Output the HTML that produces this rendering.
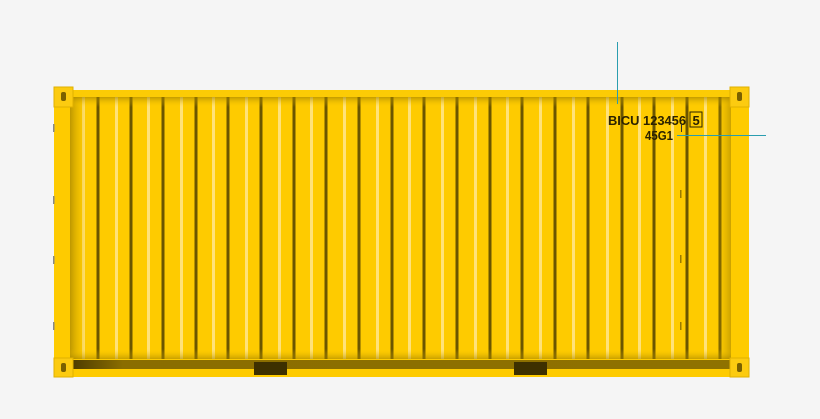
<!DOCTYPE html>
<html><head><meta charset="utf-8"><style>
html,body{margin:0;padding:0;background:#f5f5f5;}
svg{display:block}
</style></head><body>
<svg width="820" height="419" viewBox="0 0 820 419">
<defs>
<linearGradient id="ls" x1="0" x2="1"><stop offset="0" stop-color="#a88600" stop-opacity=".75"/><stop offset="1" stop-color="#fecb00" stop-opacity="0"/></linearGradient>
<linearGradient id="rs" x1="1" x2="0"><stop offset="0" stop-color="#a88600" stop-opacity=".6"/><stop offset="1" stop-color="#fecb00" stop-opacity="0"/></linearGradient>
<linearGradient id="ts" x1="0" x2="0" y1="0" y2="1"><stop offset="0" stop-color="#9c7c00" stop-opacity=".6"/><stop offset="1" stop-color="#fecb00" stop-opacity="0"/></linearGradient>
<linearGradient id="us" x1="0" x2="0" y1="1" y2="0"><stop offset="0" stop-color="#9c7c00" stop-opacity=".55"/><stop offset="1" stop-color="#fecb00" stop-opacity="0"/></linearGradient>
<linearGradient id="bs" x1="0" x2="1"><stop offset="0" stop-color="#4a3a00"/><stop offset=".08" stop-color="#8a6d00"/><stop offset="1" stop-color="#8f7200"/></linearGradient>
</defs>
<rect x="54" y="90" width="695" height="287" fill="#fecb00"/>
<g id="ribs"></g>
<rect x="70" y="97" width="18" height="262" fill="url(#ls)"/>
<rect x="715" y="97" width="16" height="262" fill="url(#rs)"/>
<rect x="54" y="97" width="695" height="10" fill="url(#ts)"/>
<rect x="54" y="349" width="695" height="10" fill="url(#us)"/>
<rect x="54" y="90" width="695" height="7" fill="#fccb05"/>
<rect x="54" y="97" width="16" height="262" fill="#fecb00"/>
<rect x="731" y="97" width="18" height="262" fill="#fecb00"/>
<rect x="54" y="359" width="695" height="18" fill="#fecb00"/>
<rect x="70" y="360" width="660" height="9" fill="url(#bs)"/>
<rect x="254" y="362" width="33" height="13" fill="#3d3000"/>
<rect x="514" y="362" width="33" height="13" fill="#3d3000"/>
<g>
<rect x="54" y="87" width="19" height="20" fill="#fccb10" stroke="#e0b000" stroke-width="1"/><rect x="61" y="92" width="5" height="9" rx="2" fill="#7a6000"/>
<rect x="730" y="87" width="19" height="20" fill="#fccb10" stroke="#e0b000" stroke-width="1"/><rect x="737" y="92" width="5" height="9" rx="2" fill="#7a6000"/>
<rect x="54" y="358" width="19" height="19" fill="#fccb10" stroke="#e0b000" stroke-width="1"/><rect x="61" y="363" width="5" height="9" rx="2" fill="#7a6000"/>
<rect x="730" y="358" width="19" height="19" fill="#fccb10" stroke="#e0b000" stroke-width="1"/><rect x="737" y="363" width="5" height="9" rx="2" fill="#7a6000"/>
</g>
<g fill="#888">
<rect x="53" y="124" width="1.5" height="8"/><rect x="53" y="196" width="1.5" height="8"/><rect x="53" y="256" width="1.5" height="8"/><rect x="53" y="322" width="1.5" height="8"/>
<rect x="680" y="190" width="1.5" height="8" fill="#9a7b00"/><rect x="680" y="255" width="1.5" height="8" fill="#9a7b00"/><rect x="680" y="322" width="1.5" height="8" fill="#9a7b00"/>
</g>
<g font-family="Liberation Sans, sans-serif" font-weight="bold" font-size="13" fill="#2b2200">
<text x="608" y="125" textLength="78" lengthAdjust="spacingAndGlyphs">BICU  123456</text>
<rect x="690" y="112" width="12" height="15" fill="none" stroke="#2b2200" stroke-width="1"/>
<text x="692.5" y="125">5</text>
<text x="645" y="140" textLength="28" lengthAdjust="spacingAndGlyphs">45G1</text>
</g>
<line x1="617.5" y1="42" x2="617.5" y2="104" stroke="#2a9db0" stroke-width="1"/>
<line x1="677" y1="135.5" x2="766" y2="135.5" stroke="#2a9db0" stroke-width="1"/>
<line x1="681.5" y1="124" x2="681.5" y2="132" stroke="#333" stroke-width="1"/>
</svg>
<script>
const ribStarts=[98,131,163,196,228,261,294,326,359,392,424,457,490,522,555,588,622,654,687,720];
const g=document.getElementById('ribs');
const ns='http://www.w3.org/2000/svg';
ribStarts.forEach(x=>{
  const l=document.createElementNS(ns,'rect');
  l.setAttribute('x',x-16);l.setAttribute('y',97);l.setAttribute('width',3);l.setAttribute('height',262);l.setAttribute('fill','#ffe27a');
  
  
  g.appendChild(l);
  const d=document.createElementNS(ns,'rect');
  d.setAttribute('x',x-1.5);d.setAttribute('y',97);d.setAttribute('width',3);d.setAttribute('height',262);d.setAttribute('fill','#6a5500');
  
  
  g.appendChild(d);
});
</script>
</body></html>
